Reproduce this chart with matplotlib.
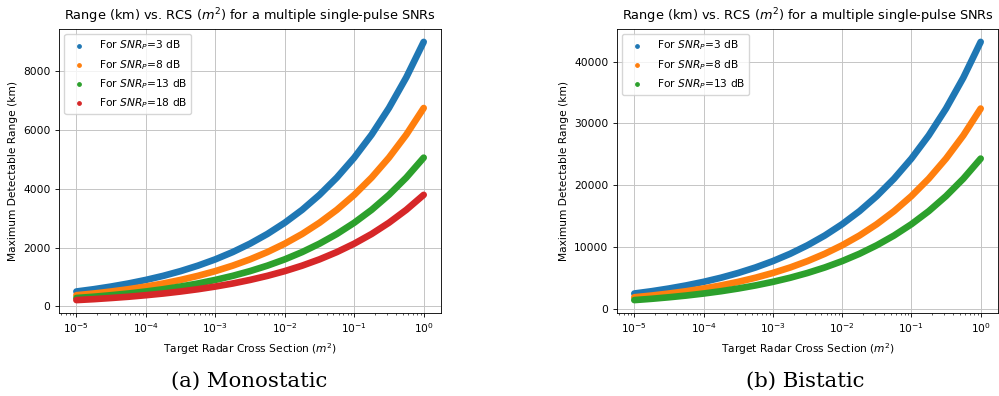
import numpy as np
import matplotlib
matplotlib.use("Agg")
from matplotlib import pyplot as plt
from matplotlib.ticker import LogLocator, NullFormatter

# RCS values (m^2), quarter-decade steps from 1e-5 to 1
rcs = [1e-5, 1.78e-5, 3.16e-5, 5.62e-5,
       1e-4, 1.78e-4, 3.16e-4, 5.62e-4,
       1e-3, 1.78e-3, 3.16e-3, 5.62e-3,
       1e-2, 1.78e-2, 3.16e-2, 5.62e-2,
       1e-1, 1.78e-1, 3.16e-1, 5.62e-1,
       1.0]

snr_mono = [3, 8, 13, 18]
snr_bi = [3, 8, 13]

# Monostatic max range (km)
mono_3 = [506, 584, 675, 779, 900, 1039, 1200, 1386, 1600, 1848, 2134,
          2464, 2846, 3286, 3795, 4383, 5061, 5844, 6749, 7794, 9000]
mono_8 = [380, 438, 506, 584, 675, 779, 900, 1039, 1200, 1386, 1600,
          1848, 2134, 2464, 2846, 3286, 3795, 4383, 5061, 5844, 6750]
mono_13 = [285, 328, 380, 438, 506, 584, 675, 779, 900, 1039, 1200,
           1386, 1600, 1848, 2134, 2464, 2846, 3286, 3795, 4383, 5061]
mono_18 = [214, 246, 285, 328, 380, 438, 506, 584, 675, 779, 900,
           1039, 1200, 1386, 1600, 1848, 2134, 2464, 2846, 3286, 3795]

# Bistatic max range (km)
bi_3 = [2429, 2803, 3240, 3741, 4320, 4988, 5760, 6651, 7680, 8870, 10243,
        11827, 13661, 15775, 18217, 21038, 24293, 28051, 32393, 37407, 43200]
bi_8 = [1822, 2102, 2429, 2803, 3240, 3741, 4320, 4988, 5760, 6651, 7680,
        8870, 10243, 11827, 13661, 15775, 18217, 21038, 24293, 28051, 32400]
bi_13 = [1366, 1576, 1822, 2102, 2429, 2803, 3240, 3741, 4320, 4988, 5760,
         6651, 7680, 8870, 10243, 11827, 13661, 15775, 18217, 21038, 24293]

colors = ["#1f77b4", "#ff7f0e", "#2ca02c", "#d62728"]

# the original figure looks like a default one shrunk to ~0.77
k = 0.77
plt.rcParams["axes.linewidth"] = 0.8 * k
plt.rcParams["xtick.major.width"] = 0.8 * k
plt.rcParams["ytick.major.width"] = 0.8 * k
plt.rcParams["xtick.minor.width"] = 0.6 * k
plt.rcParams["xtick.major.size"] = 3.5 * k
plt.rcParams["ytick.major.size"] = 3.5 * k
plt.rcParams["xtick.minor.size"] = 2 * k

fig = plt.figure(figsize=(9.99, 3.96), dpi=100)
ax1 = fig.add_axes([0.0591, 0.2096, 0.3824, 0.7172])
ax2 = fig.add_axes([0.6176, 0.2096, 0.3814, 0.7172])


def draw(ax, snrs, series):
    for i, (snr, R) in enumerate(zip(snrs, series)):
        ax.plot(rcs, R, color=colors[i], lw=4.8, solid_capstyle="round", zorder=2)
        ax.scatter([], [], s=6, color=colors[i], label=r"For $SNR_P$=%d dB" % snr)
    ax.set_xscale("log")
    ax.xaxis.set_major_locator(LogLocator(base=10, numticks=20))
    ax.xaxis.set_minor_locator(LogLocator(base=10, subs=np.arange(2, 10), numticks=20))
    ax.xaxis.set_minor_formatter(NullFormatter())
    ax.grid(True, color="#c4c4c4", lw=0.9 * k)
    ax.set_axisbelow(True)
    ax.set_title(r"Range (km) vs. RCS ($m^2$) for a multiple single-pulse SNRs",
                 fontsize=12 * k)
    ax.set_xlabel(r"Target Radar Cross Section ($m^2$)", fontsize=10 * k)
    ax.set_ylabel("Maximum Detectable Range (km)", fontsize=10 * k)
    ax.tick_params(labelsize=10 * k)
    ax.legend(loc="upper left", fontsize=10 * k)


draw(ax1, snr_mono, [mono_3, mono_8, mono_13, mono_18])
draw(ax2, snr_bi, [bi_3, bi_8, bi_13])

fig.text(0.249, 0.024, "(a) Monostatic", ha="center", va="baseline",
         fontsize=15.3, family="DejaVu Serif")
fig.text(0.806, 0.024, "(b) Bistatic", ha="center", va="baseline",
         fontsize=15.3, family="DejaVu Serif")

fig.savefig("out.png", dpi=100)
